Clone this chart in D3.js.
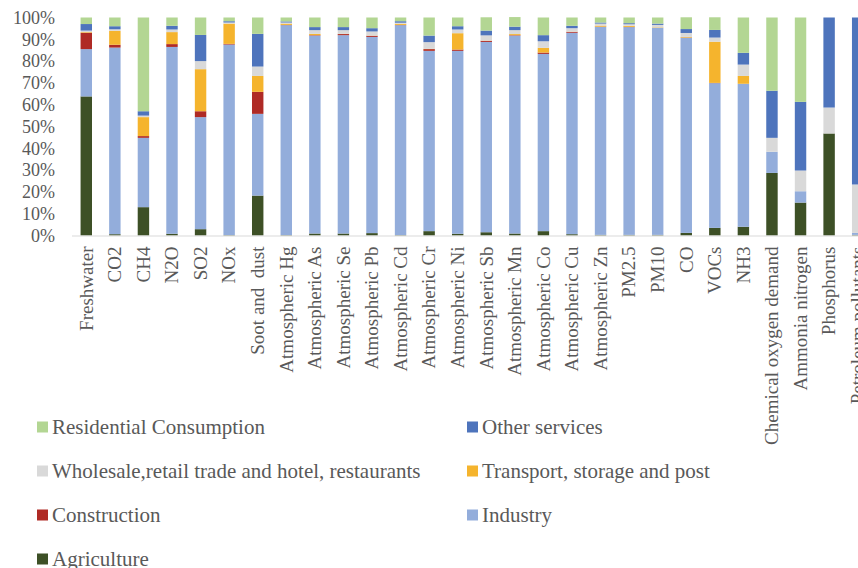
<!DOCTYPE html>
<html>
<head>
<meta charset="utf-8">
<script src="https://cdn.jsdelivr.net/npm/d3@7"></script>
<style>
  html, body { margin: 0; padding: 0; background: #fff; overflow: hidden; }
  svg { display: block; font-family: "Liberation Serif", "Times New Roman", serif; }
</style>
</head>
<body>
<svg id="chart" width="858" height="568"></svg>
<script>
// Pollutant / resource categories along the x axis
const categories = [
  "Freshwater", "CO2", "CH4", "N2O", "SO2", "NOx", "Soot and  dust",
  "Atmospheric Hg", "Atmospheric As", "Atmospheric Se", "Atmospheric Pb",
  "Atmospheric Cd", "Atmospheric Cr", "Atmospheric Ni", "Atmospheric Sb",
  "Atmospheric Mn", "Atmospheric Co", "Atmospheric Cu", "Atmospheric Zn",
  "PM2.5", "PM10", "CO", "VOCs", "NH3", "Chemical oxygen demand",
  "Ammonia nitrogen", "Phosphorus", "Petroleum pollutants"
];

// Sector shares (%) per category, stacked bottom to top
const agriculture  = [63.8, 0.6, 13.0, 0.8, 2.9, 0.2, 18.3, 0.2, 0.9, 0.9, 1.1, 0.2, 2.0, 0.8, 1.5, 0.9, 2.0, 0.6, 0.3, 0.3, 0.3, 1.2, 3.5, 4.0, 28.7, 15.1, 46.8, 0.3];
const industry     = [21.7, 85.6, 31.8, 85.7, 51.4, 87.4, 37.5, 96.3, 90.8, 91.0, 90.0, 96.3, 82.7, 83.9, 87.3, 90.8, 81.3, 92.4, 95.4, 95.3, 95.0, 89.5, 66.4, 65.6, 9.7, 5.2, 0.0, 0.9];
const construction = [7.5, 1.3, 0.8, 1.3, 2.7, 0.3, 10.1, 0.1, 0.2, 0.5, 0.5, 0.1, 0.8, 0.6, 0.5, 0.2, 0.6, 0.4, 0.1, 0.1, 0.0, 0.1, 0.1, 0.0, 0.0, 0.0, 0.0, 0.0];
const transport    = [0.3, 6.4, 8.7, 5.5, 19.3, 9.3, 7.3, 0.6, 0.6, 0.1, 0.1, 0.5, 0.1, 7.5, 0.1, 0.5, 2.2, 0.1, 0.5, 0.5, 0.2, 0.3, 18.9, 3.6, 0.0, 0.0, 0.0, 0.0];
const wholesale    = [0.7, 0.7, 0.7, 1.2, 3.7, 0.5, 4.3, 0.5, 1.7, 1.7, 1.9, 0.5, 3.1, 1.7, 2.4, 1.8, 3.0, 1.6, 0.9, 0.7, 1.1, 1.8, 1.9, 5.2, 6.4, 9.5, 11.9, 22.2];
const otherServ    = [3.0, 1.4, 2.0, 1.7, 12.0, 0.6, 15.0, 0.5, 1.4, 1.4, 1.5, 0.7, 3.0, 1.5, 2.2, 1.6, 2.8, 1.1, 0.5, 0.5, 0.6, 1.8, 3.5, 5.4, 21.6, 31.5, 41.3, 76.6];
const residential  = [3.0, 4.0, 43.0, 3.8, 8.0, 1.7, 7.5, 1.8, 4.4, 4.4, 4.9, 1.7, 8.3, 4.0, 6.1, 4.4, 8.1, 3.8, 2.3, 2.6, 2.8, 5.4, 5.8, 16.2, 33.6, 38.7, 0.0, 0.0];

// Series in stacking order (bottom first)
const seriesNames = [
  "Agriculture", "Industry", "Construction", "Transport, storage and post",
  "Wholesale,retail trade and hotel, restaurants", "Other services", "Residential Consumption"
];
const seriesValues = [agriculture, industry, construction, transport, wholesale, otherServ, residential];
const seriesColors = ["#3D5026", "#93ADDB", "#AF2A25", "#F5B42D", "#D9D9D9", "#4E74BC", "#B3D693"];

// Legend order (row-major, two columns)
const legendOrder = [
  "Residential Consumption", "Other services",
  "Wholesale,retail trade and hotel, restaurants", "Transport, storage and post",
  "Construction", "Industry", "Agriculture"
];

const yTicks = [0, 10, 20, 30, 40, 50, 60, 70, 80, 90, 100];

const svg = d3.select("#chart");
const textColor = "#595959";

const plotLeft = 72, plotTop = 17.5, plotBottom = 235.5;
const step = 28.57;
const x = d3.scaleBand()
  .domain(categories)
  .range([plotLeft, plotLeft + step * categories.length])
  .paddingInner(0.6)
  .paddingOuter(0.3);

const y = d3.scaleLinear().domain([0, 100]).range([plotBottom, plotTop]);

// Table rows for d3.stack
const rows = categories.map((c, i) => {
  const r = { category: c };
  seriesNames.forEach((s, k) => { r[s] = seriesValues[k][i]; });
  return r;
});
const stacked = d3.stack().keys(seriesNames)(rows);
const color = d3.scaleOrdinal().domain(seriesNames).range(seriesColors);

// Bars
svg.append("g")
  .selectAll("g")
  .data(stacked)
  .join("g")
  .attr("fill", d => color(d.key))
  .selectAll("rect")
  .data(d => d)
  .join("rect")
  .attr("x", d => x(d.data.category))
  .attr("width", x.bandwidth())
  .attr("y", d => y(d[1]))
  .attr("height", d => Math.max(0, y(d[0]) - y(d[1])));

// X axis baseline
svg.append("line")
  .attr("x1", plotLeft).attr("x2", plotLeft + step * categories.length)
  .attr("y1", y(0) + 0.5).attr("y2", y(0) + 0.5)
  .attr("stroke", "#D9D9D9").attr("stroke-width", 1);

// Y axis tick labels
const yAxis = d3.axisLeft(y)
  .tickValues(yTicks)
  .tickFormat(d => d + "%")
  .tickSize(0)
  .tickPadding(0);
const yg = svg.append("g")
  .attr("transform", `translate(55,0)`)
  .call(yAxis);
yg.select(".domain").remove();
yg.selectAll("text")
  .attr("fill", textColor)
  .style("font-size", "18px")
  .style("font-family", "'Liberation Serif', 'Times New Roman', serif");

// X axis category labels (rotated)
const xAxis = d3.axisBottom(x).tickSize(0).tickPadding(0);
const xg = svg.append("g")
  .attr("transform", `translate(0,${y(0) + 11})`)
  .call(xAxis);
xg.select(".domain").remove();
xg.selectAll("text")
  .attr("fill", textColor)
  .style("font-size", "19px")
  .style("font-family", "'Liberation Serif', 'Times New Roman', serif")
  .style("white-space", "pre")
  .attr("text-anchor", "end")
  .attr("transform", "rotate(-90)")
  .attr("x", 0)
  .attr("y", 0)
  .attr("dy", "0.33em");

// Legend
const legend = svg.append("g");
const legX = [37, 467], legY0 = 427, legDy = 44;
legendOrder.forEach((name, i) => {
  const col = i % 2, row = Math.floor(i / 2);
  const g = legend.append("g")
    .attr("transform", `translate(${legX[col]},${legY0 + row * legDy})`);
  g.append("rect")
    .attr("x", 0).attr("y", -5.5)
    .attr("width", 11).attr("height", 11)
    .attr("fill", color(name));
  g.append("text")
    .attr("x", 15).attr("y", 0).attr("dy", "0.35em")
    .attr("fill", textColor)
    .style("font-size", "21px")
    .text(name);
});
</script>
</body>
</html>
